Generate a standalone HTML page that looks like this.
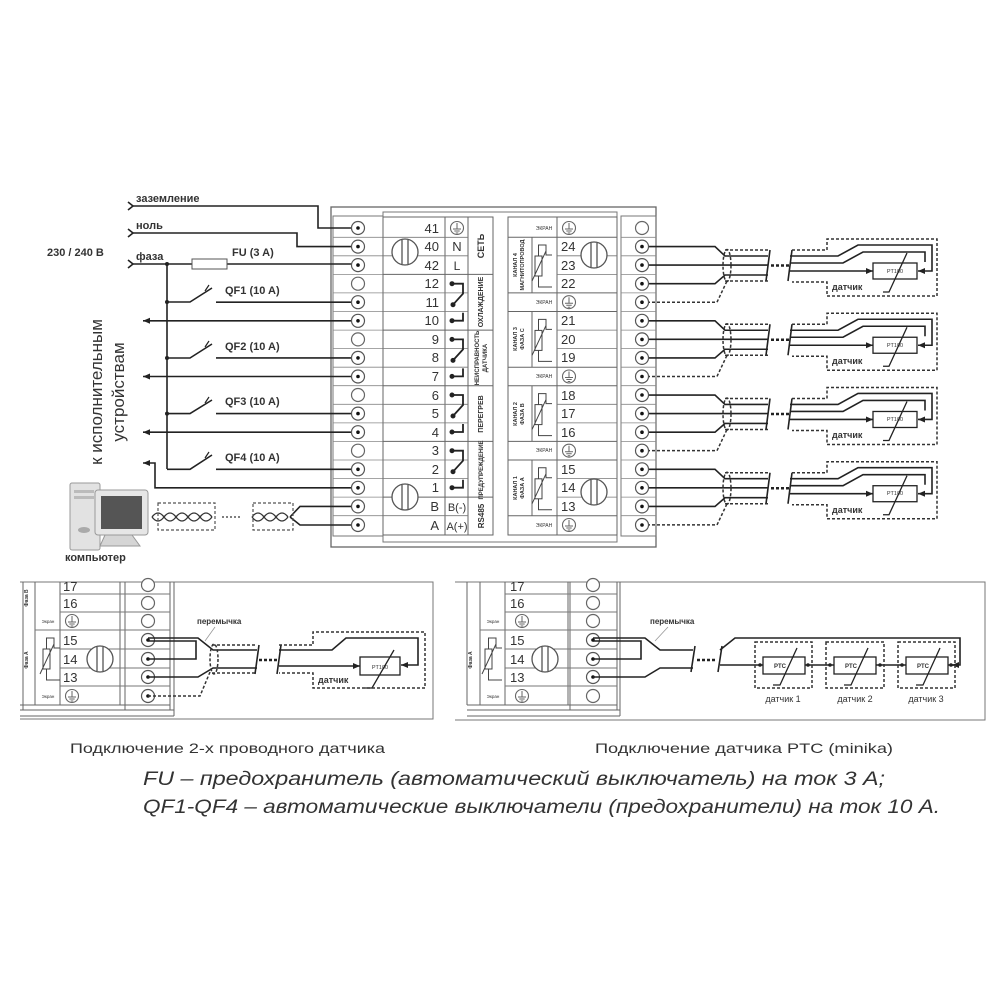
<!DOCTYPE html>
<html><head><meta charset="utf-8"><style>
html,body{margin:0;padding:0;background:#fff;}
svg{display:block;}
text{font-family:"Liberation Sans",sans-serif;fill:#333;}
</style></head><body>
<svg width="1000" height="1000" viewBox="0 0 1000 1000" xmlns="http://www.w3.org/2000/svg">
<defs>
<marker id="ar" markerWidth="8" markerHeight="8" refX="7" refY="4" orient="auto" markerUnits="userSpaceOnUse"><path d="M0,1 L7,4 L0,7 z" fill="#222"/></marker>
<g id="tc"><circle r="6.5" fill="#fff" stroke="#555" stroke-width="1.2"/><circle r="1.8" fill="#111"/></g>
<g id="te"><circle r="6.5" fill="#fff" stroke="#666" stroke-width="1.2"/></g>
<g id="gnd"><circle r="6.5" fill="#fff" stroke="#666" stroke-width="1.1"/><path d="M0,-5 V1 M-4,1 H4 M-2.7,3 H2.7 M-1.3,5 H1.3" stroke="#666" stroke-width="1" fill="none"/></g>
<g id="knob"><circle r="13" fill="#fff" stroke="#555" stroke-width="1.3"/><path d="M-3,-12 V12 M3,-12 V12" stroke="#555" stroke-width="1.3"/></g>
<g id="relay" fill="none" stroke="#222" stroke-width="1.8"><path d="M452,0 H463 V10 L453,21"/><path d="M463,29 V37 H452"/><circle cx="452" cy="0" r="1.6" fill="#222"/><circle cx="453" cy="21" r="1.6" fill="#222"/><circle cx="452" cy="37" r="1.6" fill="#222"/></g>
<g id="therm" fill="none" stroke="#444" stroke-width="1"><rect x="535" y="-9" width="7" height="20"/><path d="M538.5,-9 V-20 H546 V-10 H552 M538.5,11 V22 H552 M532,16 L546,-14"/></g>
<g id="sens">
<g fill="none" stroke="#222" stroke-width="1.6">
<path d="M642,246.6 H715 L725,256 H768"/>
<path d="M642,265.1 H768"/>
<path d="M642,283.7 H715 L725,275 H768"/>
<path d="M790,256 H838 L858,245 H932 V271 H918" marker-end="url(#ar)"/>
<path d="M790,263 H843 L863,252 H925 V262"/>
<path d="M790,271 H873" marker-end="url(#ar)"/>
<path d="M770,250 L766,281 M792,250 L788,281"/>
</g>
<rect x="873" y="263" width="44" height="16" fill="#fff" stroke="#222" stroke-width="1.3"/>
<path d="M883,292 H889 L907,253" fill="none" stroke="#222" stroke-width="1.3"/>
<g fill="none" stroke="#333" stroke-width="1.5" stroke-dasharray="3,2">
<path d="M642,302.2 H717 L727,281"/>
<path d="M725,250 H768 M725,281 H768"/>
<ellipse cx="727" cy="265.5" rx="4" ry="16"/>
<path d="M792,250 H827 V239 H937 V296 H827 V282 H792"/>
</g>
<path d="M771,265.5 H790" stroke="#222" stroke-width="2.5" stroke-dasharray="3,2"/>
</g>
<g id="pair" fill="none" stroke="#333" stroke-width="1.3"><path d="M0,0 q6,-8 12,0 t12,0 t12,0 t12,0 t12,0"/><path d="M0,0 q6,8 12,0 t12,0 t12,0 t12,0 t12,0"/></g>
</defs>

<!-- main device outer -->
<rect x="331" y="207" width="325" height="340" fill="none" stroke="#666" stroke-width="1.3"/>
<!-- left strip -->
<rect x="333" y="216" width="50" height="320" fill="none" stroke="#777" stroke-width="1"/>
<path d="M333,237.3h50M333,255.8h50M333,274.4h50M333,292.9h50M333,311.5h50M333,330.1h50M333,348.6h50M333,367.2h50M333,385.7h50M333,404.3h50M333,422.9h50M333,441.4h50M333,460h50M333,478.5h50M333,497.1h50M333,515.7h50" stroke="#888" stroke-width="0.8"/>
<!-- right strip -->
<rect x="621" y="216" width="35" height="320" fill="none" stroke="#777" stroke-width="1"/>
<path d="M621,237.3h35M621,255.8h35M621,274.4h35M621,292.9h35M621,311.5h35M621,330.1h35M621,348.6h35M621,367.2h35M621,385.7h35M621,404.3h35M621,422.9h35M621,441.4h35M621,460h35M621,478.5h35M621,497.1h35M621,515.7h35" stroke="#888" stroke-width="0.8"/>
<!-- inner frame -->
<rect x="383" y="212" width="234" height="330" fill="none" stroke="#777" stroke-width="1"/>
<!-- left panel -->
<rect x="383" y="217" width="110" height="318" fill="none" stroke="#666" stroke-width="1"/>
<path d="M445,217 V535 M468,217 V535" stroke="#666" stroke-width="1"/>
<path d="M383,237.3h85M383,255.8h85M383,292.9h85M383,311.5h85M383,348.6h85M383,367.2h85M383,404.3h85M383,422.9h85M383,460h85M383,478.5h85M383,515.7h85" stroke="#777" stroke-width="0.8"/>
<path d="M383,274.4h110M383,330.1h110M383,385.7h110M383,441.4h110M383,497.1h110" stroke="#666" stroke-width="1"/>
<!-- right panel -->
<rect x="508" y="217" width="109" height="318" fill="none" stroke="#666" stroke-width="1"/>
<path d="M557,217 V535 M532,237.3 V292.9 M532,311.5 V367.2 M532,385.7 V441.4 M532,460 V515.7" stroke="#666" stroke-width="1"/>
<path d="M557,255.8h60M557,274.4h60M557,330.1h60M557,348.6h60M557,404.3h60M557,422.9h60M557,478.5h60M557,497.1h60" stroke="#777" stroke-width="0.8"/>
<path d="M508,237.3h109M508,292.9h109M508,311.5h109M508,367.2h109M508,385.7h109M508,441.4h109M508,460h109M508,515.7h109" stroke="#666" stroke-width="1"/>

<!-- knobs -->
<use href="#knob" x="405" y="252"/>
<use href="#knob" x="405" y="497"/>
<use href="#knob" x="594" y="255"/>
<use href="#knob" x="594" y="492"/>

<!-- left numbers -->
<g font-size="13" text-anchor="end">
<text x="439" y="233">41</text><text x="439" y="251">40</text><text x="439" y="270">42</text>
<text x="439" y="288">12</text><text x="439" y="307">11</text><text x="439" y="325">10</text>
<text x="439" y="344">9</text><text x="439" y="362">8</text><text x="439" y="381">7</text>
<text x="439" y="400">6</text><text x="439" y="418">5</text><text x="439" y="437">4</text>
<text x="439" y="455">3</text><text x="439" y="474">2</text><text x="439" y="492">1</text>
<text x="439" y="511">B</text><text x="439" y="530">A</text>
</g>
<use href="#gnd" x="457" y="228"/>
<text x="457" y="251" font-size="13" text-anchor="middle">N</text>
<text x="457" y="270" font-size="12" text-anchor="middle">L</text>
<text x="457" y="511" font-size="11" text-anchor="middle">B(-)</text>
<text x="457" y="530" font-size="11" text-anchor="middle">A(+)</text>
<use href="#relay" y="283.7"/><use href="#relay" y="339.4"/><use href="#relay" y="395"/><use href="#relay" y="450.7"/>
<g font-size="7" font-weight="bold" text-anchor="middle">
<text transform="translate(484,246) rotate(-90)" font-size="9">СЕТЬ</text>
<text transform="translate(483,302) rotate(-90)">ОХЛАЖДЕНИЕ</text>
<text transform="translate(479,358) rotate(-90)" font-size="6">НЕИСПРАВНОСТЬ</text>
<text transform="translate(487,358) rotate(-90)" font-size="6">ДАТЧИКА</text>
<text transform="translate(483,414) rotate(-90)">ПЕРЕГРЕВ</text>
<text transform="translate(483,470) rotate(-90)" font-size="6">ПРЕДУПРЕЖДЕНИЕ</text>
<text transform="translate(484,516) rotate(-90)" font-size="8">RS485</text>
</g>

<!-- right numbers -->
<g font-size="13">
<text x="561" y="251">24</text><text x="561" y="270">23</text><text x="561" y="288">22</text>
<text x="561" y="325">21</text><text x="561" y="344">20</text><text x="561" y="362">19</text>
<text x="561" y="400">18</text><text x="561" y="418">17</text><text x="561" y="437">16</text>
<text x="561" y="474">15</text><text x="561" y="492">14</text><text x="561" y="511">13</text>
</g>
<g font-size="5" text-anchor="middle"><text x="544" y="230">ЭКРАН</text><text x="544" y="304">ЭКРАН</text><text x="544" y="378">ЭКРАН</text><text x="544" y="452">ЭКРАН</text><text x="544" y="527">ЭКРАН</text></g>
<use href="#gnd" x="569" y="228"/><use href="#gnd" x="569" y="302.2"/><use href="#gnd" x="569" y="376.5"/><use href="#gnd" x="569" y="450.7"/><use href="#gnd" x="569" y="525"/>
<use href="#therm" y="265"/><use href="#therm" y="339.4"/><use href="#therm" y="413.6"/><use href="#therm" y="487.8"/>
<g font-size="5.5" font-weight="bold" text-anchor="middle">
<text transform="translate(517,265) rotate(-90)">КАНАЛ 4</text><text transform="translate(524,265) rotate(-90)">МАГНИТОПРОВОД</text>
<text transform="translate(517,339) rotate(-90)">КАНАЛ 3</text><text transform="translate(524,339) rotate(-90)">ФАЗА С</text>
<text transform="translate(517,414) rotate(-90)">КАНАЛ 2</text><text transform="translate(524,414) rotate(-90)">ФАЗА В</text>
<text transform="translate(517,488) rotate(-90)">КАНАЛ 1</text><text transform="translate(524,488) rotate(-90)">ФАЗА А</text>
</g>

<!-- left wiring -->
<g fill="none" stroke="#222" stroke-width="1.6">
<path d="M133,206 H318 V228 H352"/>
<path d="M133,233 H297 V246.6 H352"/>
<path d="M133,264 H352"/>
<path d="M167,264 V469"/>
<path d="M167,302 H190 L212,288"/><path d="M216,302.2 H352"/>
<path d="M167,358 H190 L212,344"/><path d="M216,357.9 H352"/>
<path d="M167,413.6 H190 L212,400"/><path d="M216,413.6 H352"/>
<path d="M167,469.3 H190 L212,455"/><path d="M216,469.3 H352"/>
<path d="M352,320.8 H143" marker-end="url(#ar)"/>
<path d="M352,376.5 H143" marker-end="url(#ar)"/>
<path d="M352,432.2 H143" marker-end="url(#ar)"/>
<path d="M352,487.8 H155 V463 H143" marker-end="url(#ar)"/>
<path d="M128,202 l5,4 l-5,4 M128,229 l5,4 l-5,4 M128,260 l5,4 l-5,4"/>
<path d="M290,517 L300,506.4 H352 M290,517 L300,525 H352"/>
</g>
<path d="M205,291 l4,-6 M205,347 l4,-6 M205,403 l4,-6 M205,458 l4,-6" stroke="#222" stroke-width="1.2"/>
<g fill="#222"><circle cx="167" cy="264" r="2"/><circle cx="167" cy="302" r="2"/><circle cx="167" cy="358" r="2"/><circle cx="167" cy="413.6" r="2"/></g>
<rect x="192" y="259" width="35" height="10" fill="#fff" stroke="#555" stroke-width="1"/>
<g font-size="11" font-weight="bold">
<text x="136" y="202">заземление</text>
<text x="136" y="229">ноль</text>
<text x="136" y="260">фаза</text>
<text x="47" y="256">230 / 240 В</text>
<text x="232" y="256">FU (3 A)</text>
<text x="225" y="294">QF1 (10 A)</text>
<text x="225" y="350">QF2 (10 A)</text>
<text x="225" y="405">QF3 (10 A)</text>
<text x="225" y="461">QF4 (10 A)</text>
</g>
<g font-size="17" text-anchor="middle">
<text transform="translate(102,392) rotate(-90)">к исполнительным</text>
<text transform="translate(124,392) rotate(-90)">устройствам</text>
</g>

<!-- terminals main -->
<use href="#tc" x="358" y="228"/><use href="#tc" x="358" y="246.6"/><use href="#tc" x="358" y="265.1"/><use href="#te" x="358" y="283.7"/>
<use href="#tc" x="358" y="302.2"/><use href="#tc" x="358" y="320.8"/><use href="#te" x="358" y="339.4"/><use href="#tc" x="358" y="357.9"/>
<use href="#tc" x="358" y="376.5"/><use href="#te" x="358" y="395"/><use href="#tc" x="358" y="413.6"/><use href="#tc" x="358" y="432.2"/>
<use href="#te" x="358" y="450.7"/><use href="#tc" x="358" y="469.3"/><use href="#tc" x="358" y="487.8"/><use href="#tc" x="358" y="506.4"/><use href="#tc" x="358" y="525"/>

<!-- sensors -->
<use href="#sens"/>
<use href="#sens" y="74.24"/>
<use href="#sens" y="148.48"/>
<use href="#sens" y="222.72"/>
<g font-size="9" font-weight="bold"><text x="832" y="290">датчик</text><text x="832" y="364">датчик</text><text x="832" y="438">датчик</text><text x="832" y="513">датчик</text></g>
<g font-size="5.5" text-anchor="middle"><text x="895" y="273">PT100</text><text x="895" y="347">PT100</text><text x="895" y="421">PT100</text><text x="895" y="495">PT100</text></g>
<use href="#te" x="642" y="228"/>
<use href="#tc" x="642" y="246.6"/><use href="#tc" x="642" y="265.1"/><use href="#tc" x="642" y="283.7"/><use href="#tc" x="642" y="302.2"/>
<use href="#tc" x="642" y="320.8"/><use href="#tc" x="642" y="339.4"/><use href="#tc" x="642" y="357.9"/><use href="#tc" x="642" y="376.5"/>
<use href="#tc" x="642" y="395"/><use href="#tc" x="642" y="413.6"/><use href="#tc" x="642" y="432.2"/><use href="#tc" x="642" y="450.7"/>
<use href="#tc" x="642" y="469.3"/><use href="#tc" x="642" y="487.8"/><use href="#tc" x="642" y="506.4"/><use href="#tc" x="642" y="525"/>

<!-- computer -->
<rect x="70" y="483" width="30" height="67" rx="2" fill="#e2e2e2" stroke="#999"/>
<rect x="74" y="490" width="20" height="3" fill="#bbb"/><rect x="74" y="496" width="20" height="3" fill="#bbb"/>
<ellipse cx="84" cy="530" rx="6" ry="3" fill="#aaa"/>
<path d="M105,535 L100,546 H140 L132,535 z" fill="#d5d5d5" stroke="#999"/>
<rect x="95" y="490" width="53" height="45" rx="3" fill="#e6e6e6" stroke="#999"/>
<rect x="101" y="496" width="41" height="33" fill="#555"/>
<text x="65" y="561" font-size="11" font-weight="bold">компьютер</text>
<use href="#pair" x="152" y="517"/>
<rect x="158" y="503" width="57" height="27" fill="none" stroke="#555" stroke-width="1.2" stroke-dasharray="3,2"/>
<path d="M222,517 H242" stroke="#333" stroke-width="1.2" stroke-dasharray="2,2"/>
<g fill="none" stroke="#333" stroke-width="1.3"><path d="M252,517 q6,-8 12,0 t12,0 t12,0"/><path d="M252,517 q6,8 12,0 t12,0 t12,0"/></g>
<rect x="253" y="503" width="40" height="27" fill="none" stroke="#555" stroke-width="1.2" stroke-dasharray="3,2"/>

<!-- ===== bottom-left panel ===== -->
<path d="M20,582 H433 V719 H20" fill="none" stroke="#777" stroke-width="1"/>
<path d="M23,582 V710 M35,582 V705 M60,582 V705 M120,582 V705 M125,582 V710 M170,582 V710 M174,582 V716" stroke="#666" stroke-width="1" fill="none"/>
<path d="M20,705 H170 M20,710 H174 M20,716 H174" stroke="#666" stroke-width="1"/>
<path d="M60,594h110M60,612h110M35,630h135M60,649h110M60,668h110M60,686h110" stroke="#777" stroke-width="0.9"/>
<use href="#knob" x="213" y="659" transform="translate(-113,0)"/>
<g font-size="13"><text x="63" y="591">17</text><text x="63" y="608">16</text><text x="63" y="645">15</text><text x="63" y="664">14</text><text x="63" y="682">13</text></g>
<use href="#gnd" x="72" y="621"/><use href="#gnd" x="72" y="696"/>
<g font-size="4.5" text-anchor="middle"><text x="48" y="623">Экран</text><text x="48" y="698">Экран</text></g>
<text transform="translate(28,660) rotate(-90)" font-size="5" font-weight="bold" text-anchor="middle">Фаза А</text>
<text transform="translate(28,598) rotate(-90)" font-size="5" font-weight="bold" text-anchor="middle">Фаза В</text>
<use href="#therm" x="-492" y="658"/>
<use href="#te" x="148" y="585"/><use href="#te" x="148" y="603"/><use href="#te" x="148" y="621"/>
<use href="#tc" x="148" y="640"/><use href="#tc" x="148" y="659"/><use href="#tc" x="148" y="677"/><use href="#tc" x="148" y="696"/>
<g fill="none" stroke="#222" stroke-width="1.6">
<path d="M148,638 H198 L213,650 H257"/>
<path d="M148,641 H196 V659 H148"/>
<path d="M148,677 H198 L213,668 H257"/>
<path d="M259,645 L255,674 M281,645 L277,674"/>
<path d="M279,650 H332 L346,638 H418 V665 H401" marker-end="url(#ar)"/>
<path d="M279,666 H360" marker-end="url(#ar)"/>
</g>
<rect x="360" y="657" width="40" height="18" fill="#fff" stroke="#222" stroke-width="1.3"/>
<text x="380" y="669" font-size="5.5" text-anchor="middle">PT100</text>
<path d="M365,688 H372 L394,650" fill="none" stroke="#222" stroke-width="1.3"/>
<g fill="none" stroke="#333" stroke-width="1.5" stroke-dasharray="3,2">
<path d="M148,696 H200 L210,672"/>
<path d="M212,645 H257 M212,673 H257"/>
<ellipse cx="214" cy="659" rx="4" ry="15"/>
<path d="M279,645 H313 V632 H425 V688 H313 V673 H279"/>
</g>
<path d="M259,660 H278" stroke="#222" stroke-width="2.5" stroke-dasharray="3,2"/>
<text x="318" y="683" font-size="9" font-weight="bold">датчик</text>
<text x="197" y="624" font-size="8" font-weight="bold">перемычка</text>
<path d="M215,627 L205,641" stroke="#999" stroke-width="0.8"/>

<!-- ===== bottom-right panel ===== -->
<path d="M455,582 H985 V720 H455" fill="none" stroke="#777" stroke-width="1"/>
<path d="M467,582 V705 M480,582 V705 M505,582 V705 M568,582 V705 M570,582 V710 M617,582 V710 M620,582 V716" stroke="#666" stroke-width="1" fill="none"/>
<path d="M467,705 H617 M467,710 H620 M467,716 H620" stroke="#666" stroke-width="1"/>
<path d="M505,594h112M505,612h112M480,630h137M505,649h112M505,668h112M505,686h112" stroke="#777" stroke-width="0.9"/>
<use href="#knob" x="545" y="659"/>
<g font-size="13"><text x="510" y="591">17</text><text x="510" y="608">16</text><text x="510" y="645">15</text><text x="510" y="664">14</text><text x="510" y="682">13</text></g>
<use href="#gnd" x="522" y="621"/><use href="#gnd" x="522" y="696"/>
<g font-size="4.5" text-anchor="middle"><text x="493" y="623">Экран</text><text x="493" y="698">Экран</text></g>
<text transform="translate(472,660) rotate(-90)" font-size="5" font-weight="bold" text-anchor="middle">Фаза А</text>
<use href="#therm" x="-50" y="658"/>
<use href="#te" x="593" y="585"/><use href="#te" x="593" y="603"/><use href="#te" x="593" y="621"/>
<use href="#tc" x="593" y="640"/><use href="#tc" x="593" y="659"/><use href="#tc" x="593" y="677"/><use href="#te" x="593" y="696"/>
<g fill="none" stroke="#222" stroke-width="1.6">
<path d="M593,638 H645 L660,650 H693"/>
<path d="M593,641 H641 V659 H593"/>
<path d="M593,677 H645 L660,668 H693"/>
<path d="M695,646 L691,672 M722,646 L718,672"/>
<path d="M720,650 L735,638 H960 V665 H952" marker-end="url(#ar)"/>
<path d="M720,665 H955"/>
</g>
<path d="M697,660 H716" stroke="#222" stroke-width="2.5" stroke-dasharray="3,2"/>
<g fill="none" stroke="#333" stroke-width="1.5" stroke-dasharray="3,2">
<rect x="755" y="642" width="57" height="46"/><rect x="826" y="642" width="58" height="46"/><rect x="898" y="642" width="57" height="46"/>
</g>
<g fill="#fff" stroke="#222" stroke-width="1.3"><rect x="763" y="657" width="42" height="17"/><rect x="834" y="657" width="42" height="17"/><rect x="906" y="657" width="42" height="17"/></g>
<g fill="none" stroke="#222" stroke-width="1.3"><path d="M773,685 H780 L797,648"/><path d="M844,685 H851 L868,648"/><path d="M916,685 H923 L940,648"/></g>
<g fill="#222"><circle cx="760" cy="665" r="1.8"/><circle cx="808" cy="665" r="1.8"/><circle cx="830" cy="665" r="1.8"/><circle cx="880" cy="665" r="1.8"/><circle cx="902" cy="665" r="1.8"/><circle cx="951" cy="665" r="1.8"/></g>
<g font-size="6" font-weight="bold" text-anchor="middle"><text x="780" y="668">PTC</text><text x="851" y="668">PTC</text><text x="923" y="668">PTC</text></g>
<g font-size="9" text-anchor="middle"><text x="783" y="702">датчик 1</text><text x="855" y="702">датчик 2</text><text x="926" y="702">датчик 3</text></g>
<text x="650" y="624" font-size="8" font-weight="bold">перемычка</text>
<path d="M668,627 L655,641" stroke="#999" stroke-width="0.8"/>

<!-- captions -->
<text x="70" y="753" font-size="14" textLength="315" lengthAdjust="spacingAndGlyphs">Подключение 2-х проводного датчика</text>
<text x="595" y="753" font-size="14" textLength="298" lengthAdjust="spacingAndGlyphs">Подключение датчика PTC (minika)</text>
<text x="143" y="785" font-size="19" font-style="italic" fill="#111" textLength="742" lengthAdjust="spacingAndGlyphs">FU – предохранитель (автоматический выключатель) на ток 3 А;</text>
<text x="143" y="813" font-size="19" font-style="italic" fill="#111" textLength="797" lengthAdjust="spacingAndGlyphs">QF1-QF4 – автоматические выключатели (предохранители) на ток 10 А.</text>
</svg>
</body></html>
